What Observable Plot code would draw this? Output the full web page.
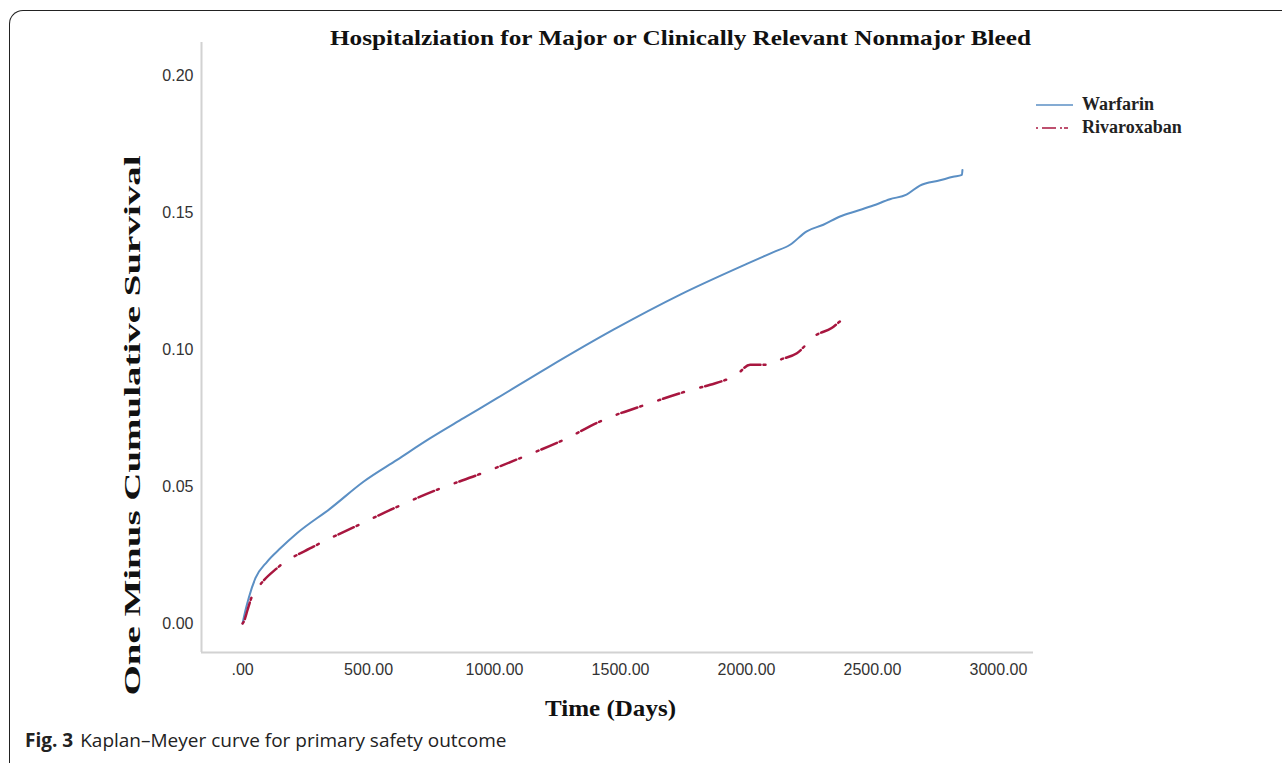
<!DOCTYPE html>
<html>
<head>
<meta charset="utf-8">
<script src="https://cdn.jsdelivr.net/npm/d3@7"></script>
<script src="https://cdn.jsdelivr.net/npm/@observablehq/plot@0.6"></script>
<style>
  html, body { margin: 0; padding: 0; background: #fff; }
  #page { position: relative; width: 1282px; height: 763px; overflow: hidden; background: #fff; }
  #border { position: absolute; left: 9px; top: 10px; width: 1300px; height: 800px;
            border-top: 1px solid #222; border-left: 1px solid #222; border-top-left-radius: 14px; }
  #chart { position: absolute; left: 0; top: 0; }
  #legend { position: absolute; left: 1036px; top: 93px; font-family: "Liberation Serif", serif;
            font-weight: bold; font-size: 18px; color: #222; line-height: 23px; }
  #legend .row { display: flex; align-items: center; }
  #legend svg { margin-right: 9px; }
  #caption { position: absolute; left: 25px; top: 727px; font-family: "Open Sans", sans-serif;
             font-size: 19px; color: #222; white-space: nowrap; }
  #caption b { font-weight: 700; margin-right: 7px; }
</style>
</head>
<body>
<div id="page">
  <div id="border"></div>
  <div id="chart"></div>
  <div id="legend"></div>
  <div id="caption"></div>
</div>
<script>
// ---- data ----
const title = "Hospitalziation for Major or Clinically Relevant Nonmajor Bleed";
const xLabel = "Time (Days)";
const yLabel = "One Minus Cumulative Survival";
const captionBold = "Fig. 3";
const captionText = "Kaplan\u2013Meyer curve for primary safety outcome";
const seriesNames = ["Warfarin", "Rivaroxaban"];
const seriesColors = ["#5b8fc4", "#a8163f"];

const xTicks = [0, 500, 1000, 1500, 2000, 2500, 3000];
const yTicks = [0, 0.05, 0.10, 0.15, 0.20];
const xDomain = [-163, 3139];
const yDomain = [-0.0106, 0.212];

const warfarinDays = [0, 12, 25, 51, 98, 151, 217, 349, 481, 613, 745, 877, 1010, 1208, 1472, 1737, 2001, 2107, 2173, 2239, 2305, 2371, 2437, 2503, 2569, 2635, 2688, 2768, 2820, 2855, 2857];
const warfarinRisk = [0, 0.005, 0.0095, 0.0165, 0.0226, 0.0275, 0.033, 0.042, 0.0518, 0.0597, 0.0676, 0.0749, 0.0822, 0.0932, 0.1072, 0.12, 0.1312, 0.1355, 0.1382, 0.1431, 0.1455, 0.1485, 0.1505, 0.1525, 0.1548, 0.1565, 0.1598, 0.1617, 0.163, 0.1637, 0.1655];

const rivaroxabanDays = [0, 5, 20, 32, 65, 137, 283, 448, 600, 772, 944, 1109, 1274, 1433, 1605, 1783, 1856, 1961, 2014, 2094, 2133, 2200, 2272, 2338, 2371, 2418];
const rivaroxabanRisk = [0, 0.0007, 0.005, 0.0086, 0.0135, 0.0202, 0.0281, 0.0354, 0.042, 0.0488, 0.0546, 0.0606, 0.067, 0.0743, 0.08, 0.0853, 0.0871, 0.0908, 0.0944, 0.0944, 0.0962, 0.0986, 0.105, 0.1078, 0.1102, 0.1132];

// ---- build tables ----
const warfarin = warfarinDays.map((d, i) => ({day: d, risk: warfarinRisk[i]}));
const rivaroxaban = rivaroxabanDays.map((d, i) => ({day: d, risk: rivaroxabanRisk[i]}));

const serif = "Liberation Serif, Times New Roman, serif";
const sans = "Liberation Sans, Arial, sans-serif";
const dash = "2,3,17,3,2,17";

const xFmt = d => d === 0 ? ".00" : d.toFixed(2);
const yFmt = d => d.toFixed(2);

const chart = Plot.plot({
  width: 1282,
  height: 763,
  marginLeft: 201,
  marginRight: 249,
  marginTop: 42,
  marginBottom: 111,
  style: {fontFamily: sans, fontSize: "16px", color: "#333", background: "transparent", overflow: "visible"},
  x: {domain: xDomain},
  y: {domain: yDomain},
  marks: [
    Plot.axisX({ticks: xTicks, tickFormat: xFmt, tickSize: 0, tickPadding: 11, label: null, fontSize: 16, fill: "#333"}),
    Plot.axisY({ticks: yTicks, tickFormat: yFmt, tickSize: 0, tickPadding: 8, label: null, fontSize: 16, fill: "#333"}),
    Plot.ruleX([xDomain[0]], {stroke: "#d2d2d2", strokeWidth: 2}),
    Plot.ruleY([yDomain[0]], {stroke: "#d2d2d2", strokeWidth: 2}),
    Plot.line(warfarin, {x: "day", y: "risk", stroke: seriesColors[0], strokeWidth: 2, curve: "monotone-x"}),
    Plot.line(rivaroxaban, {x: "day", y: "risk", stroke: seriesColors[1], strokeWidth: 2.5, strokeDasharray: dash, curve: "monotone-x"}),
    Plot.text([title], {frameAnchor: "top", dx: 63, dy: -5, lineAnchor: "middle", textAnchor: "middle", fontFamily: serif, fontWeight: "bold", fontSize: 22, fill: "#111"}),
    Plot.text([xLabel], {frameAnchor: "bottom", dx: -7, dy: 56, lineAnchor: "middle", textAnchor: "middle", fontFamily: serif, fontWeight: "bold", fontSize: 24, fill: "#111"}),
    Plot.text([yLabel], {frameAnchor: "left", dx: -69, dy: 78, rotate: -90, lineAnchor: "middle", textAnchor: "middle", fontFamily: serif, fontWeight: "bold", fontSize: 24, fill: "#111"})
  ]
});

// stretch the serif labels to the lengths they span in the reference
const stretch = {[title]: 701, [xLabel]: 131, [yLabel]: 540};
d3.select(chart).selectAll("text").each(function () {
  const t = this.textContent;
  if (stretch[t] != null) {
    this.setAttribute("textLength", stretch[t]);
    this.setAttribute("lengthAdjust", "spacingAndGlyphs");
  }
});
document.getElementById("chart").appendChild(chart);

// ---- legend ----
const legend = document.getElementById("legend");
seriesNames.forEach((name, i) => {
  const row = document.createElement("div");
  row.className = "row";
  const dashAttr = i === 1 ? ' stroke-dasharray="2,4,14,4,2"' : "";
  row.innerHTML = `<svg width="37" height="10"><line x1="0" y1="5" x2="37" y2="5" stroke="${seriesColors[i]}" stroke-opacity="0.75" stroke-width="2"${dashAttr}/></svg><span>${name}</span>`;
  legend.appendChild(row);
});

// ---- caption ----
document.getElementById("caption").innerHTML = `<b>${captionBold}</b>${captionText}`;
</script>
</body>
</html>
